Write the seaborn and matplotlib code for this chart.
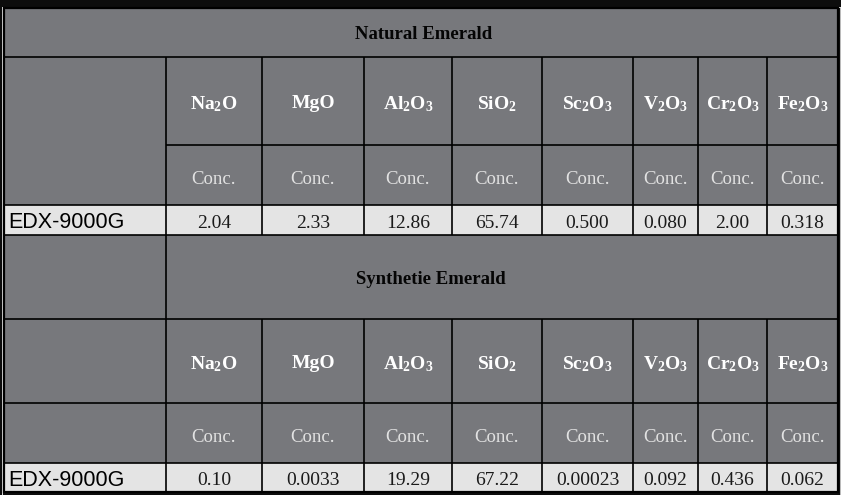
import matplotlib
matplotlib.use("Agg")
import matplotlib.pyplot as plt
from matplotlib.patches import Rectangle
import seaborn as sns
import numpy as np
import pandas as pd

sns.set_style("white")
plt.rcParams['mathtext.fontset'] = 'custom'
plt.rcParams['mathtext.rm'] = 'Liberation Serif:bold'
plt.rcParams['mathtext.it'] = 'Liberation Serif:bold'
plt.rcParams['mathtext.bf'] = 'Liberation Serif:bold'
plt.rcParams['mathtext.default'] = 'rm'

# ---------------- data ----------------
oxides = ["Na$_2$O", "MgO", "Al$_2$O$_3$", "SiO$_2$", "Sc$_2$O$_3$",
          "V$_2$O$_3$", "Cr$_2$O$_3$", "Fe$_2$O$_3$"]
instrument = "EDX-9000G"
unit_label = "Conc."
natural_title = "Natural Emerald"
synthetic_title = "Synthetie Emerald"
natural_values = ["2.04", "2.33", "12.86", "65.74", "0.500", "0.080", "2.00", "0.318"]
synthetic_values = ["0.10", "0.0033", "19.29", "67.22", "0.00023", "0.092", "0.436", "0.062"]

df = pd.DataFrame({"oxide": oxides, "natural": natural_values, "synthetic": synthetic_values})

# ---------------- layout (pixels) ----------------
W, H = 841, 495
col_edges = [4, 166, 262, 364, 452, 542, 633, 698, 767, 838]
nat_rows = [8, 57, 145, 205, 235]
syn_rows = [235, 319, 403, 463, 492]

GRAY = "#77787c"
LIGHT = "#e4e4e4"
LINE = "#000000"

fig = plt.figure(figsize=(W / 100, H / 100), dpi=100, facecolor="#0d0d0d")
ax = fig.add_axes([0, 0, 1, 1])
ax.set_xlim(0, W)
ax.set_ylim(H, 0)
ax.axis("off")

def rect(x0, y0, x1, y1, fc):
    ax.add_patch(Rectangle((x0, y0), x1 - x0, y1 - y0, facecolor=fc, edgecolor="none", zorder=1))

def hline(y, x0, x1, lw=1.2):
    ax.plot([x0, x1], [y, y], color=LINE, lw=lw, zorder=3, solid_capstyle="butt")

def vline(x, y0, y1, lw=1.2):
    ax.plot([x, x], [y0, y1], color=LINE, lw=lw, zorder=3, solid_capstyle="butt")

# outer frame decorations (white thin lines of screenshot)
ax.plot([2.5, 2.5], [6.5, 495], color="white", lw=0.6, zorder=0.5)
ax.plot([2.5, 841], [6.5, 6.5], color="white", lw=0.6, zorder=0.5)
ax.plot([840.5, 840.5], [6.5, 495], color="#dddddd", lw=0.6, zorder=0.5)

x_left, x_right = col_edges[0], col_edges[-1]

# backgrounds
rect(x_left, nat_rows[0], x_right, nat_rows[3], GRAY)
rect(x_left, nat_rows[3], x_right, nat_rows[4], LIGHT)
rect(x_left, syn_rows[0], x_right, syn_rows[3], GRAY)
rect(x_left, syn_rows[3], x_right, syn_rows[4], LIGHT)

# grid lines - natural section
hline(nat_rows[1], x_left, x_right)
hline(nat_rows[2], col_edges[1], x_right)
hline(nat_rows[3], x_left, x_right)
hline(nat_rows[4], x_left, x_right)
for x in col_edges[1:-1]:
    vline(x, nat_rows[1], nat_rows[4])
# grid lines - synthetic section
hline(syn_rows[1], x_left, x_right)
hline(syn_rows[2], x_left, x_right)
hline(syn_rows[3], x_left, x_right)
vline(col_edges[1], syn_rows[0], syn_rows[4])
for x in col_edges[2:-1]:
    vline(x, syn_rows[1], syn_rows[4])

# outer border
ax.add_patch(Rectangle((x_left, nat_rows[0]), x_right - x_left, syn_rows[4] - nat_rows[0],
                       facecolor="none", edgecolor=LINE, lw=1.6, zorder=4))

centers = [(col_edges[i] + col_edges[i + 1]) / 2 for i in range(1, len(col_edges) - 1)]

def section(rows, title, title_x, values, title_dy):
    ax.text(title_x, (rows[0] + rows[1]) / 2 + title_dy, title, ha="center", va="center",
            family="Liberation Serif", fontweight="bold", fontsize=13.5, color="#050505", zorder=5)
    for cx, ox, val in zip(centers, oxides, values):
        ax.text(cx, (rows[1] + rows[2]) / 2 + 3, ox, ha="center", va="center",
                family="Liberation Serif", fontweight="bold", fontsize=14, color="white", zorder=5)
        ax.text(cx, (rows[2] + rows[3]) / 2 + 4, unit_label, ha="center", va="center",
                family="Liberation Serif", fontsize=13.5, color="#e2e2e2", zorder=5)
        ax.text(cx, (rows[3] + rows[4]) / 2 + 3, val, ha="center", va="center",
                family="Liberation Serif", fontsize=14, color="#1a1a1a", zorder=5)
    ax.text(8, (rows[3] + rows[4]) / 2 + 3, instrument, ha="left", va="center",
            family="Liberation Sans", fontsize=15.5, color="#000000", zorder=5)

section(nat_rows, natural_title, 424, df["natural"].tolist(), 2)
section(syn_rows, synthetic_title, 431, df["synthetic"].tolist(), 3)

fig.savefig("out.png", dpi=100, facecolor=fig.get_facecolor())
